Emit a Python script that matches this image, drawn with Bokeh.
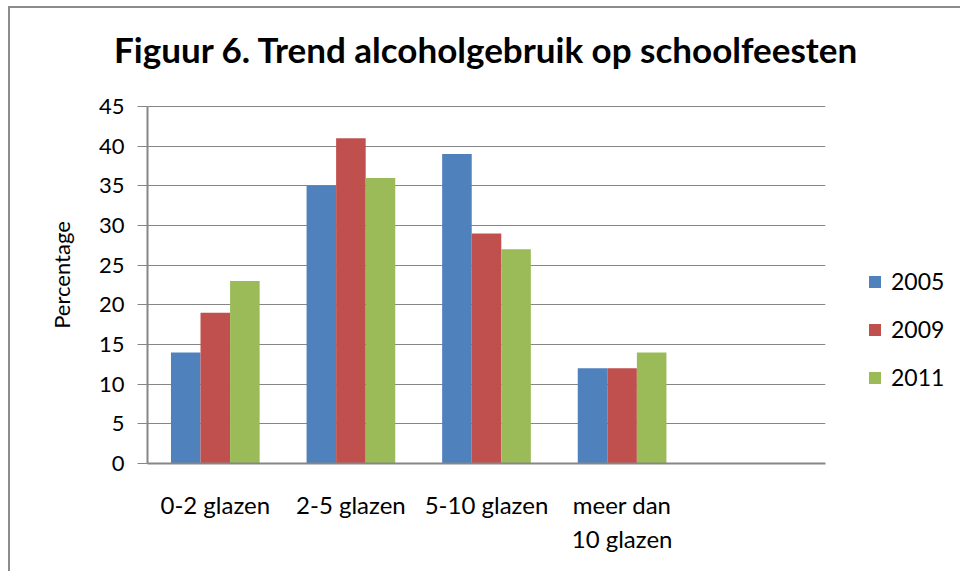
from bokeh.plotting import figure
from bokeh.models import ColumnDataSource, FactorRange, Legend, LegendItem, FixedTicker
from bokeh.transform import dodge
from bokeh.embed import file_html
from bokeh.resources import INLINE

title_text = "Figuur 6. Trend alcoholgebruik op schoolfeesten"
categories = ["0-2 glazen", "2-5 glazen", "5-10 glazen", "meer dan\n10 glazen"]
empty_slot = [" "]
years = ["2005", "2009", "2011"]
v2005 = [14, 35, 39, 12]
v2009 = [19, 41, 29, 12]
v2011 = [23, 36, 27, 14]
colors = ["#4F81BD", "#C0504D", "#9BBB59"]
y_ticks = [0, 5, 10, 15, 20, 25, 30, 35, 40, 45]
y_max = 45

FONT = "Lato"
FW = 678          # frame width (px)
PLOT_H = 357      # height of the 0..45 value area (px)
EXTRA_H = 20      # empty frame room above the value area (px)
FH = PLOT_H + EXTRA_H

src = ColumnDataSource(dict(cat=categories, y2005=v2005, y2009=v2009, y2011=v2011))

p = figure(frame_width=FW, frame_height=FH,
           x_range=FactorRange(*(categories + empty_slot), range_padding=0),
           y_range=(0, y_max * FH / PLOT_H),
           output_backend="svg", toolbar_location=None,
           min_border_left=137, min_border_right=130,
           min_border_top=78, min_border_bottom=108)
p.styles = {"border-top": "2px solid #8c8c8c", "border-left": "2px solid #8c8c8c",
            "margin-left": "8px", "margin-top": "6px"}

p.title.text = title_text
p.title.text_font = FONT
p.title.text_font_style = "bold"
p.title.text_font_size = "35px"
p.title.align = "center"
p.title.standoff = 34
p.title.text_color = "#000000"

w = 0.218
renderers = []
for i, (yr, col) in enumerate(zip(years, colors)):
    r = p.vbar(x=dodge("cat", (i - 1) * w, range=p.x_range), top="y" + yr, width=w,
               source=src, fill_color=col, line_color=None)
    renderers.append(r)

p.outline_line_color = None
p.xgrid.grid_line_color = None
p.ygrid.grid_line_color = "#868686"
p.ygrid.grid_line_width = 1
p.ygrid.bounds = (0, y_max)

p.yaxis.bounds = (0, y_max)
p.yaxis.ticker = FixedTicker(ticks=y_ticks)
p.yaxis.major_tick_out = 10
p.yaxis.major_tick_in = 0
p.yaxis.minor_tick_line_color = None
p.yaxis.major_tick_line_color = "#868686"
p.yaxis.axis_line_color = "#868686"
p.yaxis.axis_line_width = 2
p.yaxis.major_label_standoff = 13
p.yaxis.major_label_text_font = FONT
p.yaxis.major_label_text_font_size = "22px"
p.yaxis.major_label_text_color = "#000000"
p.yaxis.axis_label = "Percentage"
p.yaxis.axis_label_text_font = FONT
p.yaxis.axis_label_text_font_size = "22px"
p.yaxis.axis_label_text_font_style = "normal"
p.yaxis.axis_label_text_color = "#000000"
p.yaxis.axis_label_standoff = 21

p.xaxis.major_tick_out = 0
p.xaxis.major_tick_in = 0
p.xaxis.axis_line_color = "#868686"
p.xaxis.axis_line_width = 2
p.xaxis.major_label_standoff = 26
p.xaxis.major_label_text_font = FONT
p.xaxis.major_label_text_font_size = "24px"
p.xaxis.major_label_text_color = "#000000"

legend = Legend(items=[LegendItem(label=yr, renderers=[r]) for yr, r in zip(years, renderers)],
                location=(42, 72), orientation="vertical",
                glyph_width=15, glyph_height=15, label_standoff=9,
                label_text_font=FONT, label_text_font_size="23px", label_text_color="#000000",
                spacing=20, padding=0, margin=0,
                border_line_color=None, background_fill_alpha=0)
p.add_layout(legend, "right")

open("out.html", "w").write(file_html(p, INLINE))
